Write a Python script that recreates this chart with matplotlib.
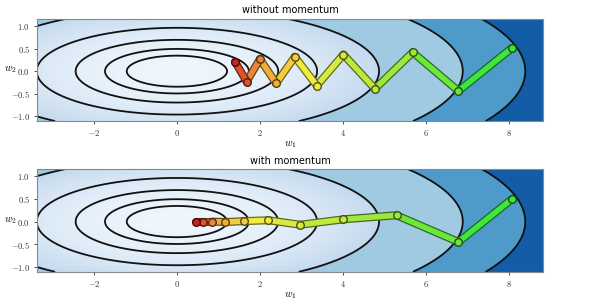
import numpy as np
import matplotlib
matplotlib.use("Agg")
import matplotlib.pyplot as plt
from matplotlib.colors import LinearSegmentedColormap, Normalize, to_rgb
from matplotlib.ticker import FuncFormatter
import matplotlib.patheffects as pe

plt.rcParams['mathtext.fontset'] = 'cm'

# ---- data ----
titles = ["without momentum", "with momentum"]
w1_plain = [8.06, 6.78, 5.68, 4.77, 4.01, 3.37, 2.84, 2.39, 2.00, 1.68, 1.40]
w2_plain = [0.51, -0.44, 0.42, -0.39, 0.37, -0.32, 0.32, -0.27, 0.27, -0.23, 0.21]
w1_mom = [8.06, 6.78, 5.29, 4.01, 2.97, 2.20, 1.62, 1.17, 0.85, 0.63, 0.46]
w2_mom = [0.49, -0.45, 0.14, 0.05, -0.07, 0.03, 0.01, -0.01, 0.0, 0.0, 0.0]
line_levels = [1.46, 3.0, 5.95, 11.4, 23.7, 47.4, 70.4]
xticks = [-2, 0, 2, 4, 6, 8]
yticks = [-1.0, -0.5, 0.0, 0.5, 1.0]
curv_ratio = 12.25  # loss = w1^2 + k * w2^2

xlim = (-3.37, 8.82)
ylim = (-1.11, 1.16)

W1, W2 = np.meshgrid(np.linspace(xlim[0], xlim[1], 600), np.linspace(ylim[0], ylim[1], 300))
F = W1**2 + curv_ratio * W2**2
fill_levels = list(np.linspace(0, line_levels[4], 30)) + line_levels[5:] + [100]

path_cmap = LinearSegmentedColormap.from_list(
    "path", ["#3ee63e", "#b4e83e", "#f0ec40", "#f0a038", "#cc2222"])

fig = plt.figure(figsize=(5.94, 3.02), dpi=100)
ax_rects = [[0.0623, 0.599, 0.852, 0.338], [0.0623, 0.100, 0.852, 0.340]]
paths = [(w1_plain, w2_plain), (w1_mom, w2_mom)]

xfmt = FuncFormatter(lambda v, p: r"$%d$" % v)
yfmt = FuncFormatter(lambda v, p: r"$%.1f$" % v)

for rect, title, (px, py) in zip(ax_rects, titles, paths):
    ax = fig.add_axes(rect)
    ax.contourf(W1, W2, F, levels=fill_levels, cmap="Blues", norm=Normalize(-5, 104))
    ax.contour(W1, W2, F, levels=line_levels, colors="#111111", linewidths=1.3)
    n = len(px)
    cols = [path_cmap(i / (n - 1)) for i in range(n)]
    for i in range(n - 1):
        c = cols[i]
        dark = tuple(np.array(to_rgb(c)) * 0.45)
        ax.plot(px[i:i + 2], py[i:i + 2], color=c, lw=4, solid_capstyle="round", zorder=3,
                path_effects=[pe.Stroke(linewidth=5.8, foreground=dark), pe.Normal()])
    for i in range(n):
        c = cols[i]
        dark = tuple(np.array(to_rgb(c)) * 0.35)
        ax.scatter([px[i]], [py[i]], s=30, color=c, edgecolors=[dark], linewidths=1.0, zorder=4)
    ax.set_xlim(xlim)
    ax.set_ylim(ylim)
    ax.set_xticks(xticks)
    ax.set_yticks(yticks)
    ax.xaxis.set_major_formatter(xfmt)
    ax.yaxis.set_major_formatter(yfmt)
    ax.tick_params(labelsize=6.2, length=2.5, width=0.6, colors="#333333", pad=2.5)
    for s in ax.spines.values():
        s.set_color("#888888")
        s.set_linewidth(0.8)
    ax.set_title(title, fontsize=7, pad=4)
    ax.set_xlabel(r"$w_1$", fontsize=7.5, labelpad=1)
    ax.set_ylabel(r"$w_2$", fontsize=7.5, rotation=0, va="center", ha="center")
    ax.yaxis.set_label_coords(-0.052, 0.5)

fig.savefig("out.png", dpi=100)
